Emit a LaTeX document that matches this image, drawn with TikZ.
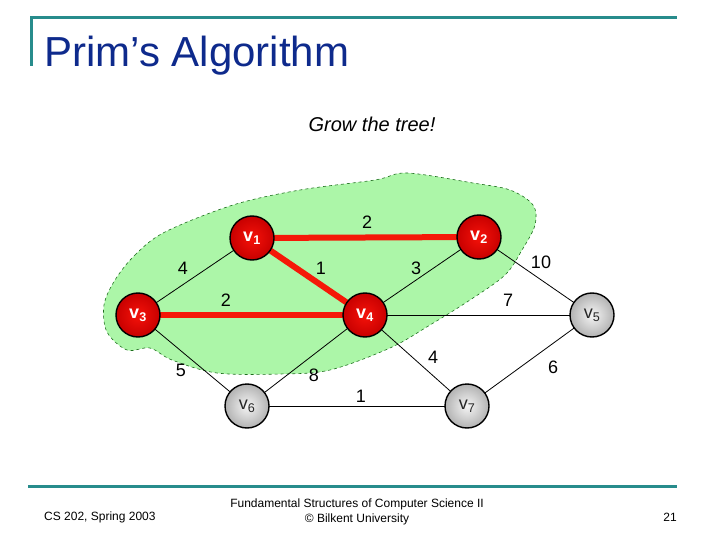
\documentclass[tikz,border=0pt]{standalone}
\usepackage{fontspec}
\setmainfont{Liberation Sans}
\definecolor{titleblue}{RGB}{14,42,140}
\definecolor{teal2}{RGB}{40,140,140}
\definecolor{blobgreen}{RGB}{172,246,168}
\definecolor{blobline}{RGB}{30,110,30}
\definecolor{treered}{RGB}{245,24,8}
\definecolor{nodered}{RGB}{245,18,10}
\definecolor{nodereddark}{RGB}{200,0,0}
\newcommand{\vlab}[1]{v\textsubscript{#1}}
\tikzset{
  treenode/.style={circle, minimum size=44bp, inner sep=0pt, draw=black, line width=1.4bp,
    inner color=nodered, outer color=nodereddark, text=white,
    font=\fontsize{18bp}{18bp}\selectfont\bfseries},
  outnode/.style={circle, minimum size=44bp, inner sep=0pt, draw=black, line width=1.4bp,
    inner color=white!96!black, outer color=black!30, text=black!85,
    font=\fontsize{18bp}{18bp}\selectfont},
  treeedge/.style={draw=treered, line width=6bp},
  thinedge/.style={draw=black, line width=0.8bp},
  wlab/.style={font=\fontsize{18bp}{18bp}\selectfont, inner sep=0pt},
  bar/.style={draw=teal2, line width=3bp}
}
\begin{document}
\begin{tikzpicture}[x=1bp, y=-1bp]
\useasboundingbox (0,0) rectangle (720,540);
% header and footer bars
\coordinate (tl) at (31,66);
\coordinate (tc) at (31,18);
\coordinate (tr) at (677,18);
\draw[bar] (tl) -- (tc) -- (tr);
\coordinate (bl) at (28,486);
\coordinate (br) at (677,486);
\draw[bar] (bl) -- (br);
\node[anchor=base west, inner sep=0pt, text=titleblue, font=\fontsize{42bp}{42bp}\selectfont] (title) at (44,67) {Prim’s Algorithm};
\node[font=\fontsize{20bp}{20bp}\selectfont\itshape, inner sep=0pt] (grow) at (372,124) {Grow the tree!};
% green blob
\draw[fill=blobgreen, draw=blobline, dashed, line width=0.6bp]
  plot[smooth cycle, tension=0.55] coordinates {
   (115,280) (135,255) (165,232) (233,205) (300,190) (375,180) (407,173) (473,183)
   (510,190) (533,205) (535,225) (522,250) (505,275) (470,300) (430,325) (390,348)
   (330,370) (280,374) (217,373) (172,360) (150,348) (127,350) (107,332) (104,305)};
% node positions
\coordinate (p1) at (252,238);
\coordinate (p2) at (479,237);
\coordinate (p3) at (138,315);
\coordinate (p4) at (365,315);
\coordinate (p5) at (592,315);
\coordinate (p6) at (247,406);
\coordinate (p7) at (467,406);
% edges
\draw[treeedge] (p1) -- (p2);
\draw[treeedge] (p1) -- (p4);
\draw[treeedge] (p3) -- (p4);
\draw[thinedge] (p1) -- (p3);
\draw[thinedge] (p2) -- (p4);
\draw[thinedge] (p2) -- (p5);
\draw[thinedge] (p4) -- (p5);
\draw[thinedge] (p3) -- (p6);
\draw[thinedge] (p4) -- (p6);
\draw[thinedge] (p4) -- (p7);
\draw[thinedge] (p6) -- (p7);
\draw[thinedge] (p5) -- (p7);
% nodes
\node[treenode] (v1) at (p1) {\vlab{1}};
\node[treenode] (v2) at (p2) {\vlab{2}};
\node[treenode] (v3) at (p3) {\vlab{3}};
\node[treenode] (v4) at (p4) {\vlab{4}};
\node[outnode] (v5) at (p5) {\vlab{5}};
\node[outnode] (v6) at (p6) {\vlab{6}};
\node[outnode] (v7) at (p7) {\vlab{7}};
% weights
\node[wlab] (w12) at (367,222) {2};
\node[wlab] (w13) at (183,268) {4};
\node[wlab] (w14) at (321,268) {1};
\node[wlab] (w24) at (416,268) {3};
\node[wlab] (w25) at (541,262) {10};
\node[wlab] (w34) at (226,300) {2};
\node[wlab] (w45) at (508,300) {7};
\node[wlab] (w36) at (181,370) {5};
\node[wlab] (w46) at (314,375) {8};
\node[wlab] (w47) at (433,357) {4};
\node[wlab] (w57) at (553,367) {6};
\node[wlab] (w67) at (361,396) {1};
% footer
\node[anchor=west, inner sep=0pt, font=\fontsize{12bp}{12bp}\selectfont] (f1) at (44,517) {CS 202, Spring 2003};
\node[align=center, inner sep=0pt, font=\fontsize{12bp}{15bp}\selectfont] (f2) at (357,512) {Fundamental Structures of Computer Science II\\© Bilkent University};
\node[anchor=east, inner sep=0pt, font=\fontsize{12bp}{12bp}\selectfont] (f3) at (677,517) {21};
\end{tikzpicture}
\end{document}
